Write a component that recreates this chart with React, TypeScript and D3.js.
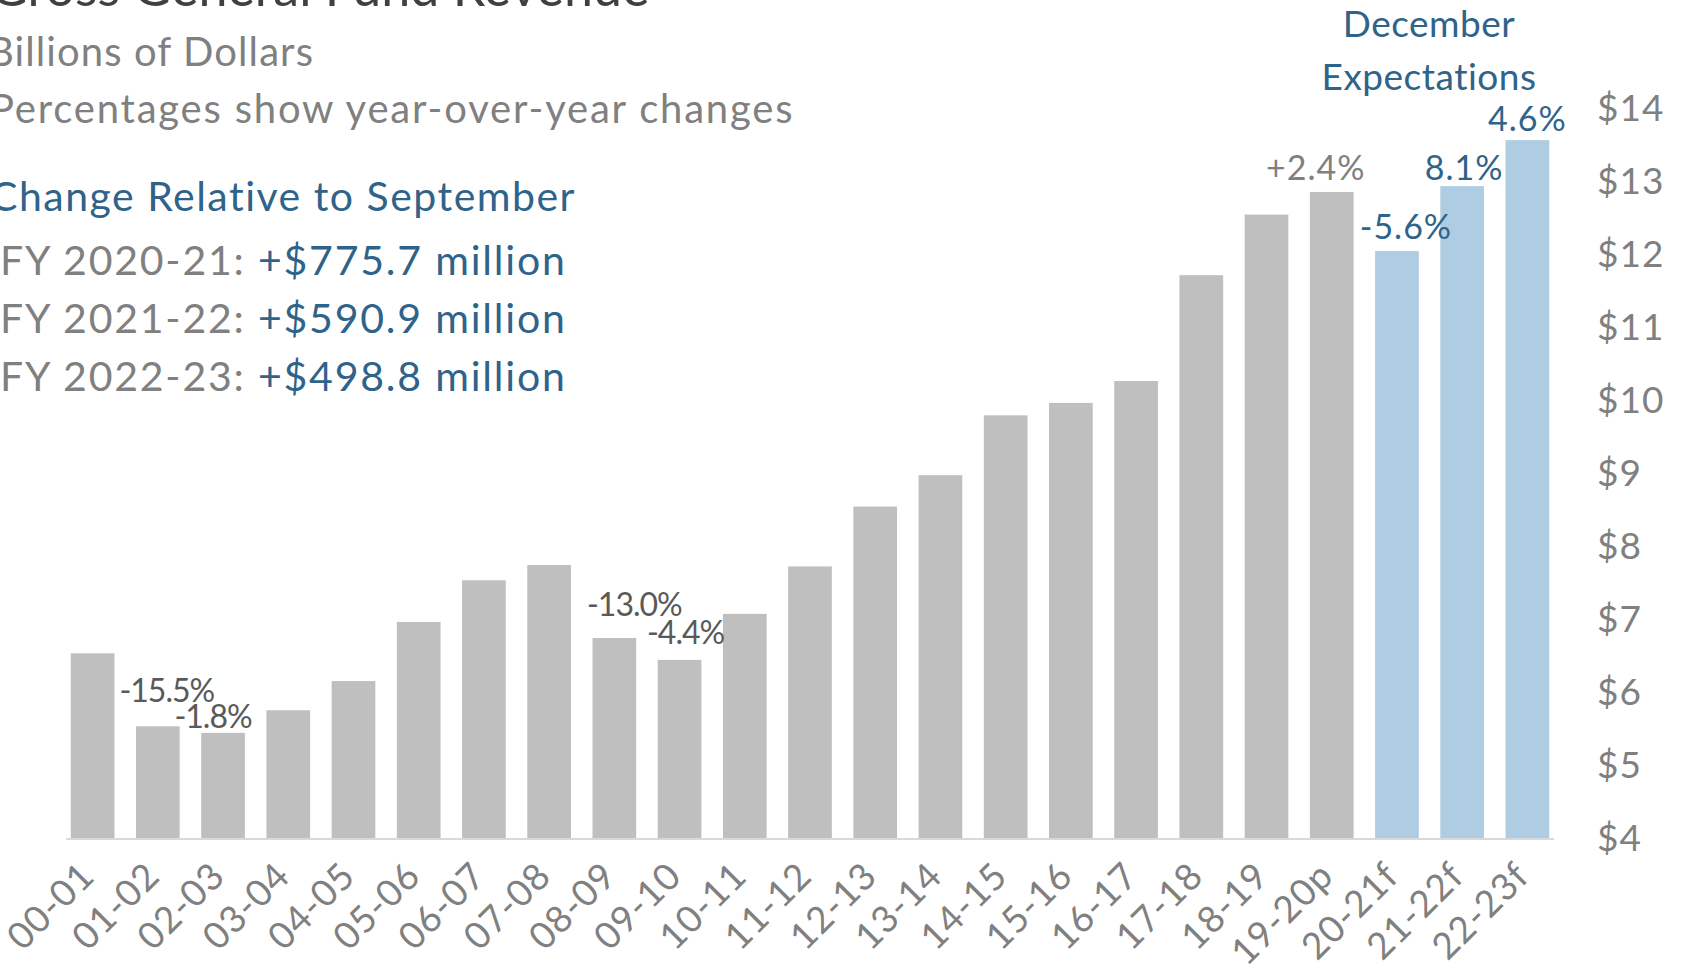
import * as d3 from "d3";

// fiscal years, p = preliminary, f = forecast
const categories = [
  "00-01", "01-02", "02-03", "03-04", "04-05", "05-06", "06-07", "07-08",
  "08-09", "09-10", "10-11", "11-12", "12-13", "13-14", "14-15", "15-16",
  "16-17", "17-18", "18-19", "19-20p", "20-21f", "21-22f", "22-23f",
];

// gross general fund revenue, billions of dollars
const revenue = [
  6.53, 5.53, 5.44, 5.75, 6.15, 6.96, 7.53, 7.74, 6.74, 6.44, 7.07, 7.72,
  8.54, 8.97, 9.79, 9.96, 10.26, 11.71, 12.54, 12.85, 12.04, 12.93, 13.56,
];

const yTicks = [4, 5, 6, 7, 8, 9, 10, 11, 12, 13, 14];

// year-over-year change labels
const changeCats = ["01-02", "02-03", "08-09", "09-10", "19-20p", "20-21f", "21-22f", "22-23f"];
const changeText = ["-15.5%", "-1.8%", "-13.0%", "-4.4%", "+2.4%", "-5.6%", "8.1%", "4.6%"];

const septemberYears = ["FY 2020-21:", "FY 2021-22:", "FY 2022-23:"];
const septemberDeltas = ["+$775.7 million", "+$590.9 million", "+$498.8 million"];

// label nudges (px) relative to bar centre / top
const changeNudge: Record<string, [number, number]> = {
  "01-02": [9, -24],
  "02-03": [-10, -5],
  "08-09": [20, -22],
  "09-10": [6, -16],
  "19-20p": [-16, -12],
  "20-21f": [9, -12],
  "21-22f": [2, -6],
  "22-23f": [0, -9],
};

const W = 1681;
const H = 973;
const GRAY_BAR = "#bfbfbf";
const BLUE_BAR = "#aecde2";
const BLUE_TXT = "#2f6389";
const GRAY_TXT = "#808080";
const FONT = "Lato, 'Open Sans', sans-serif";

export default function App() {
  const x = d3.scaleBand<string>().domain(categories).range([60, 1560]).paddingInner(0.33).paddingOuter(0.165);
  const y = d3.scaleLinear().domain([4, 14]).range([838, 108]);
  const isForecast = (c: string) => c.endsWith("f");
  const bw = x.bandwidth();

  return (
    <svg
      width={W}
      height={H}
      style={{ position: "absolute", left: 0, top: 0, background: "#fff" }}
      fontFamily={FONT}
    >
      <text x={-10} y={6} fontSize={52} fill="#404040">Gross General Fund Revenue</text>
      <text x={-12} y={66} fontSize={40} fill={GRAY_TXT} letterSpacing={1.1}>Billions of Dollars</text>
      <text x={-10} y={123} fontSize={40} fill={GRAY_TXT} letterSpacing={1.8}>Percentages show year-over-year changes</text>
      <text x={-10} y={211} fontSize={41} fill={BLUE_TXT} letterSpacing={1.5}>Change Relative to September</text>
      {septemberYears.map((s, i) => (
        <text key={s} x={0} y={275 + i * 58} fontSize={41} fill={GRAY_TXT} letterSpacing={1.8}>
          {s} <tspan fill={BLUE_TXT}>{septemberDeltas[i]}</tspan>
        </text>
      ))}

      <text x={1429} y={37} fontSize={37} fill={BLUE_TXT} textAnchor="middle" letterSpacing={0.5}>December</text>
      <text x={1429} y={90} fontSize={37} fill={BLUE_TXT} textAnchor="middle" letterSpacing={0.5}>Expectations</text>

      {categories.map((c, i) => (
        <rect
          key={c}
          x={x(c)}
          y={y(revenue[i])}
          width={bw}
          height={y(4) - y(revenue[i])}
          fill={isForecast(c) ? BLUE_BAR : GRAY_BAR}
        />
      ))}

      <line x1={66} x2={1554} y1={y(4) + 1} y2={y(4) + 1} stroke="#d9d9d9" strokeWidth={2} />

      {yTicks.map((t) => (
        <text key={t} x={1597} y={y(t)} dy="0.35em" fontSize={37} fill={GRAY_TXT} letterSpacing={1}>
          ${t}
        </text>
      ))}

      {categories.map((c) => {
        const cx = (x(c) ?? 0) + bw / 2 + 4;
        const cy = y(4) + 40;
        return (
          <text
            key={c}
            transform={`translate(${cx},${cy}) rotate(-45)`}
            textAnchor="end"
            fontSize={37}
            fill={GRAY_TXT}
            letterSpacing={1}
          >
            {c}
          </text>
        );
      })}

      {changeCats.map((c, i) => {
        const idx = categories.indexOf(c);
        const [dx, dy] = changeNudge[c];
        const fc = isForecast(c);
        const late = idx >= 19;
        return (
          <text
            key={c}
            x={(x(c) ?? 0) + bw / 2 + dx}
            y={y(revenue[idx]) + dy}
            textAnchor="middle"
            fontSize={late ? 34 : 32}
            fill={fc ? BLUE_TXT : late ? GRAY_TXT : "#595959"}
            letterSpacing={late ? 1 : -1}
          >
            {changeText[i]}
          </text>
        );
      })}
    </svg>
  );
}
